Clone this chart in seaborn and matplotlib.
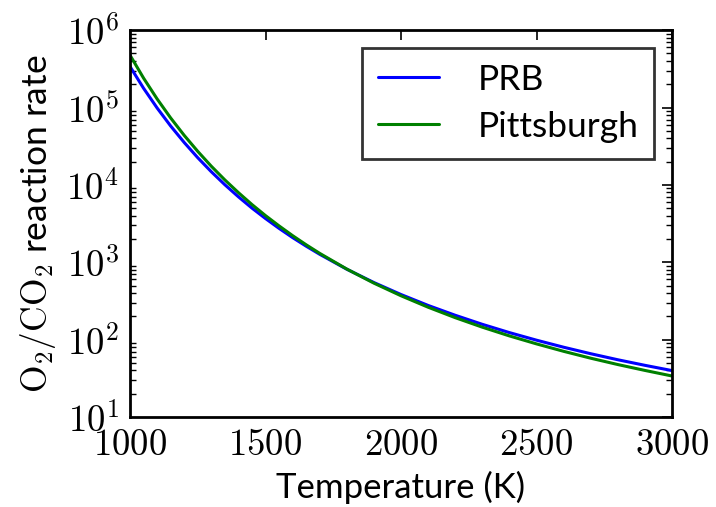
import numpy as np
import pandas as pd
import matplotlib
matplotlib.use("Agg")
import matplotlib.pyplot as plt
import seaborn as sns
from matplotlib.ticker import FixedLocator, FuncFormatter, LogLocator, NullFormatter

# ---- data ----
temperature = [1000, 1050, 1100, 1150, 1200, 1250, 1300, 1350, 1400, 1450, 1500, 1550,
               1600, 1650, 1700, 1800, 1900, 2000, 2100, 2200, 2300, 2400, 2500, 2600,
               2700, 2800, 2900, 3000]
prb_log10 = [5.530, 5.249, 4.994, 4.761, 4.548, 4.351, 4.170, 4.002, 3.846, 3.700, 3.565, 3.438,
             3.319, 3.208, 3.103, 2.910, 2.738, 2.583, 2.442, 2.315, 2.198, 2.091, 1.993, 1.902,
             1.818, 1.740, 1.668, 1.600]
pitt_log10 = [5.677, 5.380, 5.111, 4.865, 4.640, 4.433, 4.241, 4.064, 3.900, 3.746, 3.603, 3.470,
              3.344, 3.226, 3.115, 2.912, 2.730, 2.567, 2.419, 2.284, 2.161, 2.048, 1.945, 1.849,
              1.760, 1.678, 1.602, 1.530]
series_names = ["PRB", "Pittsburgh"]
series_colors = ["#0000ff", "#008000"]
x_ticks = [1000, 1500, 2000, 2500, 3000]
y_ticks = [1e1, 1e2, 1e3, 1e4, 1e5, 1e6]

df = pd.concat([
    pd.DataFrame({"T": temperature, "rate": 10 ** np.array(prb_log10), "coal": series_names[0]}),
    pd.DataFrame({"T": temperature, "rate": 10 ** np.array(pitt_log10), "coal": series_names[1]}),
])

sns.set_style("white")
plt.rcParams["font.family"] = ["Lato", "DejaVu Sans"]
plt.rcParams["mathtext.fontset"] = "cm"
plt.rcParams["text.color"] = "black"
plt.rcParams["axes.labelcolor"] = "black"

fig = plt.figure(figsize=(7.16, 5.07), dpi=100)
ax = fig.add_axes([0.1816, 0.1775, 0.757, 0.763])

sns.lineplot(data=df, x="T", y="rate", hue="coal", palette=series_colors,
             hue_order=series_names, linewidth=2.2, ax=ax, legend=False)

ax.set_yscale("log")
ax.set_xlim(1000, 3000)
ax.set_ylim(1e1, 1e6)

ax.xaxis.set_major_locator(FixedLocator(x_ticks))
ax.xaxis.set_major_formatter(FuncFormatter(lambda v, p: f"${int(v)}$"))
ax.yaxis.set_major_locator(FixedLocator(y_ticks))
ax.yaxis.set_major_formatter(FuncFormatter(lambda v, p: f"$10^{{{int(round(np.log10(v)))}}}$"))
ax.yaxis.set_minor_locator(LogLocator(base=10, subs=np.arange(2, 10), numticks=20))
ax.yaxis.set_minor_formatter(NullFormatter())

for s in ax.spines.values():
    s.set_color("black")
    s.set_linewidth(2.0)

ax.tick_params(axis="both", which="major", direction="in", length=7.5, width=1.2,
               top=True, right=True, labelsize=26.5, pad=8, colors="black")
ax.tick_params(axis="y", which="minor", direction="in", length=4.5, width=1.0,
               left=True, right=True, colors="black")

ax.set_xlabel("Temperature (K)", fontsize=25, labelpad=7, color="black")
ax.set_ylabel(r"$\mathrm{O_2/CO_2}$ reaction rate", fontsize=25.5, labelpad=6, color="black")

handles = [plt.Line2D([], [], color=c, lw=2.2) for c in series_colors]
leg = ax.legend(handles, series_names, loc="upper right", fontsize=25.5,
                frameon=True, fancybox=False, handlelength=1.7, handletextpad=1.1,
                borderpad=0.45, labelspacing=0.42, borderaxespad=0.5)
leg.get_frame().set_edgecolor("black")
leg.get_frame().set_linewidth(2.0)
for t in leg.get_texts():
    t.set_color("black")

fig.savefig("out.png", dpi=100)
